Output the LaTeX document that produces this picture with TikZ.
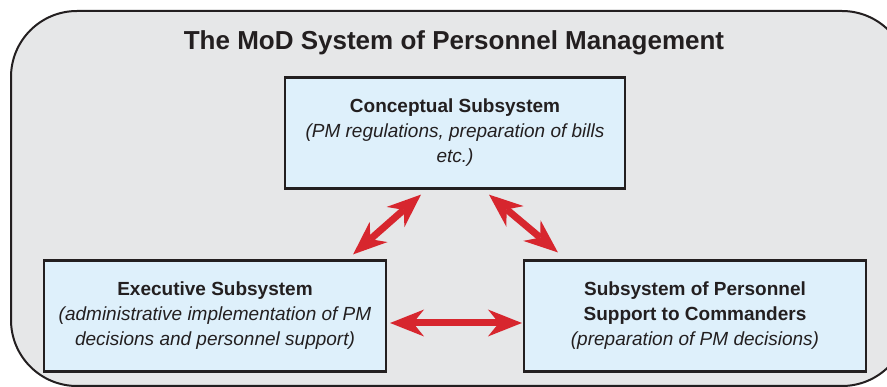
\documentclass[tikz,border=0pt]{standalone}
\usepackage{fontspec}
\setmainfont{Liberation Sans}
\usetikzlibrary{arrows.meta}

\definecolor{panelgray}{HTML}{E6E7E8}
\definecolor{boxblue}{HTML}{DEF0FB}
\definecolor{inkdark}{HTML}{231F20}
\definecolor{linkred}{HTML}{D7262E}

\begin{document}
\begin{tikzpicture}[x=1pt,y=-1pt,
    frame/.style={draw=inkdark,fill=panelgray,line width=2pt,rounded corners=66pt},
    heading/.style={text=inkdark,font=\fontsize{26}{30}\selectfont\bfseries,inner sep=0pt},
    subbox/.style={draw=inkdark,fill=boxblue,line width=2.2pt,minimum width=340pt,
                   minimum height=111pt,inner sep=0pt,align=center,text=inkdark,
                   font=\fontsize{19}{25}\selectfont},
    link/.style={draw=linkred,line width=7pt,
                 {Stealth[length=34pt,width=27pt,inset=11pt,line width=0pt]}-{Stealth[length=34pt,width=27pt,inset=11pt,line width=0pt]}},
]

% ---- canvas ---------------------------------------------------------------
\useasboundingbox (0,0) rectangle (887,387);
\clip (0,0) rectangle (887,387);

% ---- x positions ----------------------------------------------------------
\def\xLeft{215}
\def\xMid{455}
\def\xRight{695}
\def\yTop{133}
\def\yLow{316}

% ---- Background panel and title -------------------------------------------
\draw[frame] (11,11) rectangle (908,386);
\node[heading,anchor=base] (title) at (454,50) {The MoD System of Personnel Management};

% ---- Subsystems -----------------------------------------------------------
\node[subbox] (concept) at (\xMid,\yTop)
    {\textbf{Conceptual Subsystem}\\
     \textit{(PM regulations, preparation of bills}\\
     \textit{etc.)}};
\node[subbox,minimum width=342pt] (exec) at (\xLeft,\yLow)
    {\textbf{Executive Subsystem}\\
     \textit{(administrative implementation of PM}\\
     \textit{decisions and personnel support)}};
\node[subbox,minimum width=342pt] (support) at (\xRight,\yLow)
    {\textbf{Subsystem of Personnel}\\
     \textbf{Support to Commanders}\\
     \textit{(preparation of PM decisions)}};

% ---- Links ----------------------------------------------------------------
\draw[link] ([xshift=-34pt,yshift=-5pt]concept.south) -- ([xshift=-34pt,yshift=5pt]exec.north east);
\draw[link] ([xshift=34pt,yshift=-5pt]concept.south) -- ([xshift=35pt,yshift=7pt]support.north west);
\draw[link] ([xshift=3pt,yshift=-7pt]exec.east) -- ([xshift=-1pt,yshift=-7pt]support.west);

\end{tikzpicture}
\end{document}
